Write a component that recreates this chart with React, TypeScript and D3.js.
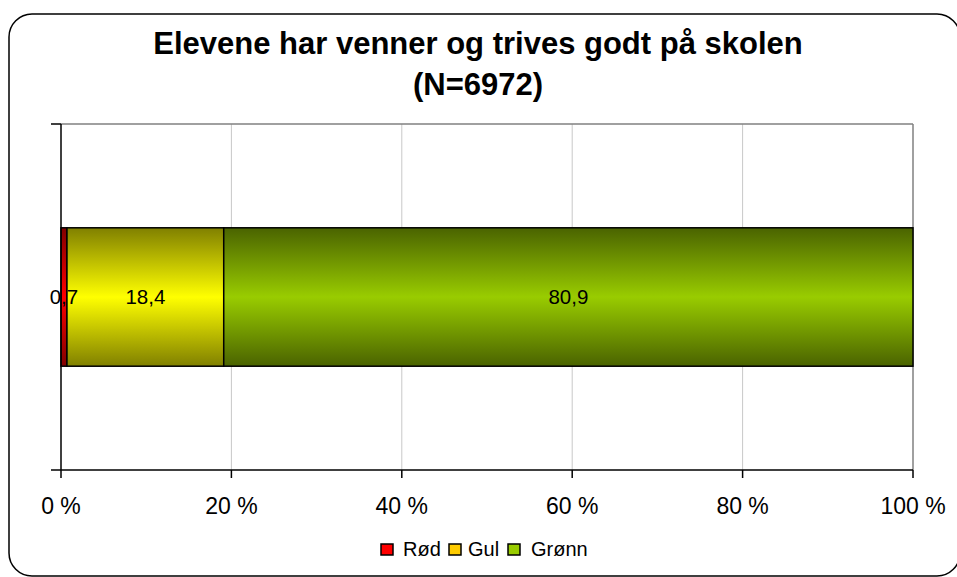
import React from "react";
import * as d3 from "d3";

const titleLines = ["Elevene har venner og trives godt på skolen", "(N=6972)"];
const seriesNames = ["Rød", "Gul", "Grønn"];
const seriesValues = [0.7, 18.4, 80.9];
const valueLabels = ["0,7", "18,4", "80,9"];
const tickValues = [0, 20, 40, 60, 80, 100];
const tickLabels = ["0 %", "20 %", "40 %", "60 %", "80 %", "100 %"];
const categories = ["Elevene"];

const brightColors = ["#ff0000", "#ffff00", "#99cc00"];
const darkColors = ["#800000", "#808000", "#4a6300"];
const legendColors = ["#ff0000", "#ffcc00", "#99cc00"];

export default function App() {
  const W = 957, H = 577;
  const left = 61, right = 913, top = 124, bottom = 470;
  const x = d3.scaleLinear().domain([0, 100]).range([left, right]);
  const y = d3.scaleBand().domain(categories).range([top, bottom]).paddingInner(0.6).paddingOuter(0.3);
  const stack = d3.cumsum(seriesValues);
  const starts = [0, ...Array.from(stack).slice(0, -1)];
  const font = "Liberation Sans, Arial, sans-serif";
  const bandY = y(categories[0])!;
  const bandH = y.bandwidth();

  const legendX = [381, 449, 508];
  const legendTextX = [403, 468, 531];

  return (
    <svg width={W} height={H} style={{ position: "absolute", left: 0, top: 0 }} fontFamily={font}>
      <defs>
        {seriesNames.map((n, i) => (
          <linearGradient key={n} id={`g${i}`} x1="0" y1="0" x2="0" y2="1">
            <stop offset="0" stopColor={darkColors[i]} />
            <stop offset="0.5" stopColor={brightColors[i]} />
            <stop offset="1" stopColor={darkColors[i]} />
          </linearGradient>
        ))}
      </defs>
      <rect x={0} y={0} width={W} height={H} fill="#fff" />
      <rect x={9} y={14} width={951} height={562} rx={23} ry={23} fill="#fff" stroke="#000" strokeWidth={1.5} />
      {titleLines.map((t, i) => (
        <text key={i} x={478} y={54 + i * 41} textAnchor="middle" fontWeight="bold" fontSize={31}>{t}</text>
      ))}
      {/* gridlines */}
      {tickValues.slice(1, -1).map((v) => (
        <line key={v} x1={x(v)} x2={x(v)} y1={top} y2={bottom} stroke="#c8c8c8" strokeWidth={1} />
      ))}
      <line x1={left} x2={right} y1={top} y2={top} stroke="#808080" strokeWidth={1.5} />
      <line x1={right} x2={right} y1={top} y2={bottom} stroke="#808080" strokeWidth={1.5} />
      {/* bars */}
      {seriesValues.map((v, i) => (
        <rect key={i} x={x(starts[i])} y={bandY} width={x(starts[i] + v) - x(starts[i])} height={bandH}
          fill={`url(#g${i})`} stroke="#000" strokeWidth={1.5} />
      ))}
      {seriesValues.map((v, i) => (
        <text key={i} x={x(starts[i] + v / 2)} y={bandY + bandH / 2 + 7} textAnchor="middle" fontSize={20.5}>{valueLabels[i]}</text>
      ))}
      {/* axes */}
      <line x1={left} x2={left} y1={top} y2={bottom} stroke="#000" strokeWidth={1.5} />
      <line x1={51} x2={left} y1={top} y2={top} stroke="#000" strokeWidth={1.5} />
      <line x1={51} x2={right} y1={bottom} y2={bottom} stroke="#000" strokeWidth={1.5} />
      {tickValues.map((v, i) => (
        <g key={v}>
          <line x1={x(v)} x2={x(v)} y1={bottom} y2={bottom + 8} stroke="#000" strokeWidth={1.5} />
          <text x={x(v)} y={514} textAnchor="middle" fontSize={23}>{tickLabels[i]}</text>
        </g>
      ))}
      {/* legend */}
      {seriesNames.map((n, i) => (
        <g key={n}>
          <rect x={legendX[i]} y={544} width={12} height={11} fill={legendColors[i]} stroke="#000" strokeWidth={1.5} />
          <text x={legendTextX[i]} y={556} fontSize={20}>{n}</text>
        </g>
      ))}
    </svg>
  );
}
